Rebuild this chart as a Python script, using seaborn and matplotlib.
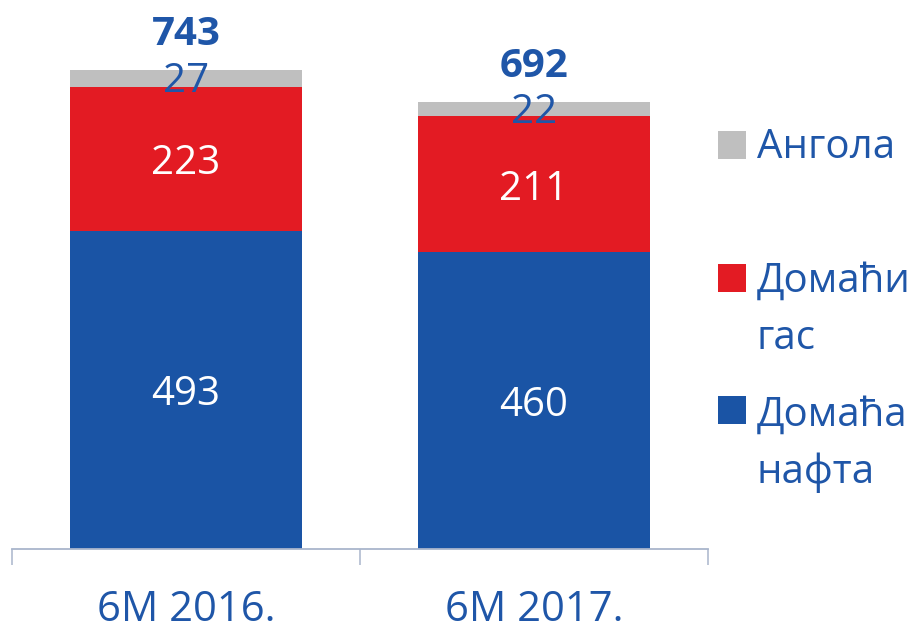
import matplotlib
matplotlib.use("Agg")
import matplotlib.pyplot as plt
import seaborn as sns
import pandas as pd
import numpy as np
from matplotlib.patches import Rectangle

categories = ["6M 2016.", "6M 2017."]
domaca_nafta = [493, 460]
domaci_gas = [223, 211]
angola = [27, 22]
totals = [743, 692]
series_names = ["Ангола", "Домаћи\nгас", "Домаћа\nнафта"]

BLUE = "#1a54a5"
RED = "#e31b23"
GREY = "#bfbfbf"
TXT = "#1f56a8"

sns.set_theme(style="white")
plt.rcParams["font.family"] = ["Open Sans", "DejaVu Sans"]

fig = plt.figure(figsize=(9.22, 6.33), dpi=100)
ax = fig.add_axes([12 / 922, 84 / 633, 696 / 922, 549 / 633])

c1 = np.array(domaca_nafta)
c2 = c1 + np.array(domaci_gas)
c3 = c2 + np.array(angola)

df = pd.DataFrame({"cat": categories, "c1": c1, "c2": c2, "c3": c3})
for col, color in [("c3", GREY), ("c2", RED), ("c1", BLUE)]:
    sns.barplot(data=df, x="cat", y=col, color=color, width=0.667,
                saturation=1, ax=ax, edgecolor="none", linewidth=0)

ax.set_xlim(-0.5, 1.5)
ax.set_ylim(0, 851)
ax.set_xlabel("")
ax.set_ylabel("")
ax.set_yticks([])
for s in ["top", "right", "left"]:
    ax.spines[s].set_visible(False)
ax.spines["bottom"].set_color("#a9b5cc")
ax.spines["bottom"].set_linewidth(1.3)

ax.set_xticks([0, 1])
ax.set_xticklabels(categories, fontsize=30, color=TXT)
ax.tick_params(axis="x", which="major", length=0, pad=29)
ax.set_xticks([-0.5, 0.5, 1.5], minor=True)
ax.tick_params(axis="x", which="minor", length=11.5, width=1.1,
               color="#a9b5cc", direction="out", bottom=True)

fs = 29
off = 8
for i in range(len(categories)):
    ax.text(i, c1[i] / 2 - off, str(domaca_nafta[i]), ha="center", va="center",
            color="white", fontsize=fs)
    ax.text(i, (c1[i] + c2[i]) / 2 - off, str(domaci_gas[i]), ha="center", va="center",
            color="white", fontsize=fs)
    ax.text(i, (c2[i] + c3[i]) / 2 - 5, str(angola[i]), ha="center", va="center",
            color=TXT, fontsize=fs)
    ax.text(i, c3[i] + 55, str(totals[i]), ha="center", va="center",
            color=TXT, fontsize=fs, fontweight="bold")

# legend
colors = [GREY, RED, BLUE]
ys = [145, 278, 410]
text_y = [148, 261, 395]
for name, col, y, ty in zip(series_names, colors, ys, text_y):
    fig.add_artist(Rectangle((718 / 922, 1 - (y + 14) / 633), 28 / 922, 28 / 633,
                             transform=fig.transFigure, facecolor=col, edgecolor="none"))
    fig.text(757 / 922, 1 - ty / 633, name, ha="left", va="top" if "\n" in name else "center",
             color=TXT, fontsize=fs, linespacing=1.55)

fig.savefig("out.png", dpi=100)
